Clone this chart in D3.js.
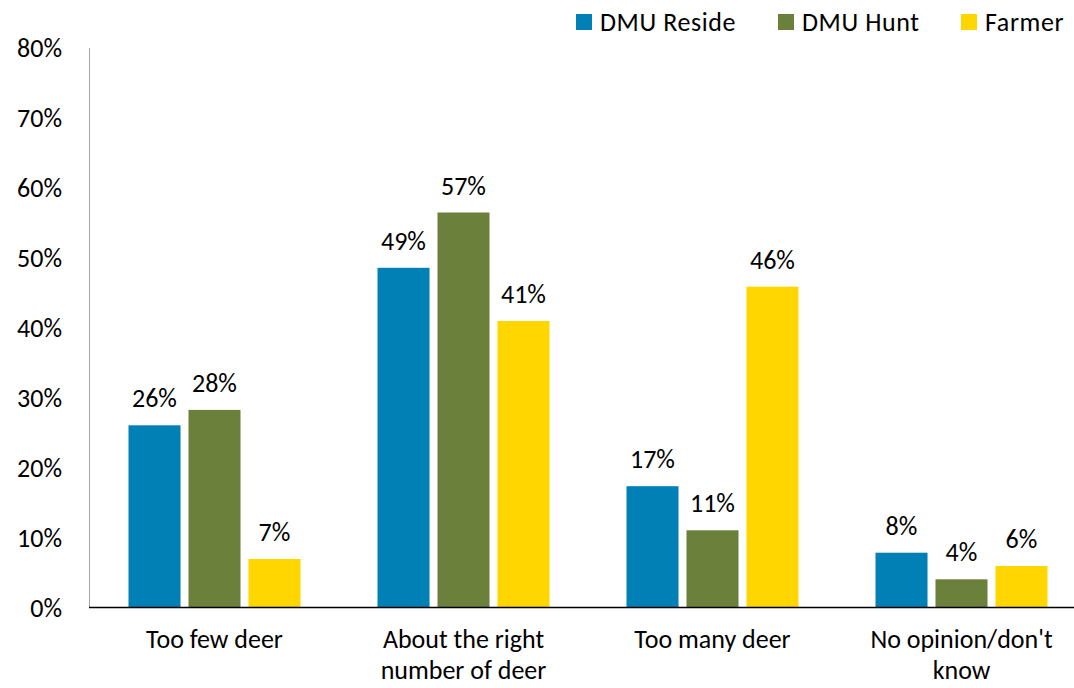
<!DOCTYPE html>
<html>
<head>
<meta charset="utf-8">
<script src="https://cdn.jsdelivr.net/npm/d3@7"></script>
<style>
  body { margin: 0; background: #fff; }
  text { font-family: Carlito, Calibri, Lato, "Open Sans", sans-serif; fill: #000; }
</style>
</head>
<body>
<div id="chart"></div>
<script>
// chart data
var categories = ["Too few deer", "About the right number of deer", "Too many deer", "No opinion/don't know"];
var catLines = [["Too few deer"], ["About the right", "number of deer"], ["Too many deer"], ["No opinion/don't", "know"]];
var seriesNames = ["DMU Reside", "DMU Hunt", "Farmer"];
var residValues = [26.1, 48.6, 17.4, 7.9];
var huntValues = [28.3, 56.5, 11.1, 4.1];
var farmerValues = [7.0, 41.0, 45.9, 6.0];
var yTicks = [0, 10, 20, 30, 40, 50, 60, 70, 80];
var colors = ["#0080B5", "#6B803A", "#FFD600"];

window.onload = function() {
  var W = 1074, H = 688;
  var fs = "26px";
  var svg = d3.select("#chart").append("svg")
      .attr("width", W).attr("height", H);

  var y = d3.scaleLinear().domain([0, 80]).range([608, 48]);
  var x0 = d3.scaleBand().domain(categories).range([90, 1086]).padding(0);
  var x1 = d3.scaleBand().domain(seriesNames).range([-86, 86]).paddingInner(0.133);

  var allValues = [residValues, huntValues, farmerValues];

  // y tick labels
  svg.append("g").selectAll("text")
    .data(yTicks).enter().append("text")
      .attr("x", 62)
      .attr("y", function(d) { return y(d); })
      .attr("dy", "0.36em")
      .attr("text-anchor", "end")
      .style("font-size", fs)
      .text(function(d) { return d + "%"; });

  // vertical axis line
  svg.append("line")
    .attr("x1", 89.5).attr("x2", 89.5)
    .attr("y1", y(80)).attr("y2", y(0))
    .attr("stroke", "#a6a6a6").attr("stroke-width", 1);

  // bars + value labels
  seriesNames.forEach(function(s, i) {
    var g = svg.append("g");
    g.selectAll("rect")
      .data(allValues[i]).enter().append("rect")
        .attr("x", function(d, j) { return x0(categories[j]) + x0.bandwidth() / 2 + x1(s); })
        .attr("y", function(d) { return y(d); })
        .attr("width", x1.bandwidth())
        .attr("height", function(d) { return y(0) - y(d); })
        .attr("fill", colors[i]);
    g.selectAll("text")
      .data(allValues[i]).enter().append("text")
        .attr("x", function(d, j) { return x0(categories[j]) + x0.bandwidth() / 2 + x1(s) + x1.bandwidth() / 2; })
        .attr("y", function(d) { return y(d) - 18; })
        .attr("text-anchor", "middle")
        .style("font-size", fs)
        .text(function(d) { return Math.round(d) + "%"; });
  });

  // baseline
  svg.append("line")
    .attr("x1", 89).attr("x2", W)
    .attr("y1", 607.5).attr("y2", 607.5)
    .attr("stroke", "#000").attr("stroke-width", 1.5);

  // category labels
  categories.forEach(function(c, j) {
    var t = svg.append("text")
      .attr("text-anchor", "middle")
      .style("font-size", fs);
    catLines[j].forEach(function(line, k) {
      t.append("tspan")
        .attr("x", x0(c) + x0.bandwidth() / 2)
        .attr("y", 648 + k * 31)
        .text(line);
    });
  });

  // legend
  var legendX = [576, 778, 961];
  var legend = svg.append("g");
  seriesNames.forEach(function(s, i) {
    legend.append("rect")
      .attr("x", legendX[i]).attr("y", 14)
      .attr("width", 16).attr("height", 16)
      .attr("fill", colors[i]);
    legend.append("text")
      .attr("x", legendX[i] + 24).attr("y", 22)
      .attr("dy", "0.36em")
      .style("font-size", fs)
      .style("letter-spacing", "0.6px")
      .text(s);
  });
};
</script>
</body>
</html>
